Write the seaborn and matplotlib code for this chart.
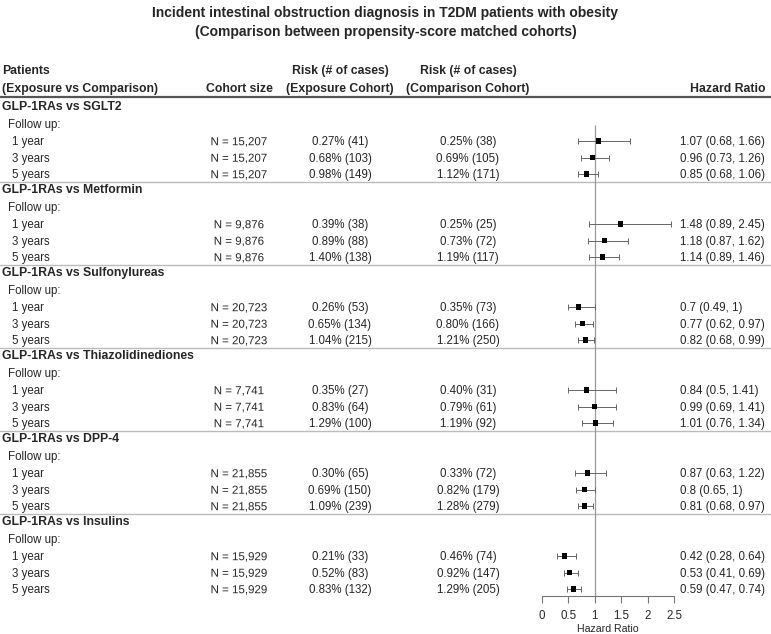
import numpy as np
import pandas as pd
import matplotlib
matplotlib.use("Agg")
import matplotlib.pyplot as plt
import matplotlib.patheffects as pe
import seaborn as sns

# ── Data ──────────────────────────────────────────────────────
groups = ["GLP-1RAs vs SGLT2", "GLP-1RAs vs Metformin", "GLP-1RAs vs Sulfonylureas",
          "GLP-1RAs vs Thiazolidinediones", "GLP-1RAs vs DPP-4", "GLP-1RAs vs Insulins"]
follow_up = ["1 year", "3 years", "5 years"]
cohort_n = [15207, 9876, 20723, 7741, 21855, 15929]

exp_pct = [[0.27, 0.68, 0.98], [0.39, 0.89, 1.40], [0.26, 0.65, 1.04],
           [0.35, 0.83, 1.29], [0.30, 0.69, 1.09], [0.21, 0.52, 0.83]]
exp_cases = [[41, 103, 149], [38, 88, 138], [53, 134, 215],
             [27, 64, 100], [65, 150, 239], [33, 83, 132]]
cmp_pct = [[0.25, 0.69, 1.12], [0.25, 0.73, 1.19], [0.35, 0.80, 1.21],
           [0.40, 0.79, 1.19], [0.33, 0.82, 1.28], [0.46, 0.92, 1.29]]
cmp_cases = [[38, 105, 171], [25, 72, 117], [73, 166, 250],
             [31, 61, 92], [72, 179, 279], [74, 147, 205]]
hr = [[1.07, 0.96, 0.85], [1.48, 1.18, 1.14], [0.7, 0.77, 0.82],
      [0.84, 0.99, 1.01], [0.87, 0.8, 0.81], [0.42, 0.53, 0.59]]
hr_lo = [[0.68, 0.73, 0.68], [0.89, 0.87, 0.89], [0.49, 0.62, 0.68],
         [0.5, 0.69, 0.76], [0.63, 0.65, 0.68], [0.28, 0.41, 0.47]]
hr_hi = [[1.66, 1.26, 1.06], [2.45, 1.62, 1.46], [1, 0.97, 0.99],
         [1.41, 1.41, 1.34], [1.22, 1, 0.97], [0.64, 0.69, 0.74]]
hr_ticks = [0, 0.5, 1, 1.5, 2, 2.5]

# ── Style ─────────────────────────────────────────────────────
sns.set_theme(style="white")
plt.rcParams["font.family"] = ["Liberation Sans", "DejaVu Sans"]
FS = 8.3
FS_B = 8.8
W, H = 771, 634
BL = 4.2  # centre -> baseline offset for body text

# layout (pixel-like units, y downwards)
GROUP_TOP, GROUP_STEP = 106, 83
ROW_OFF = [0, 18, 35, 51.5, 68]
X_COH, X_EXP, X_CMP, X_HR = 239, 340, 468, 680

rows = []
for g in range(len(groups)):
    base = GROUP_TOP + GROUP_STEP * g
    for i in range(3):
        rows.append({"group": groups[g], "y": base + ROW_OFF[2 + i],
                     "hr": hr[g][i], "lo": hr_lo[g][i], "hi": hr_hi[g][i]})
df = pd.DataFrame(rows)

fig = plt.figure(figsize=(W / 100, H / 100), dpi=100)
tab = fig.add_axes([0, 0, 1, 1])
tab.set_xlim(0, W)
tab.set_ylim(H, 0)
tab.axis("off")

# title
ttl = dict(ha="center", va="baseline", fontsize=10, fontweight="bold")
tab.text(W / 2, 12 + 5, "Incident intestinal obstruction diagnosis in T2DM patients with obesity", **ttl)
tab.text(W / 2, 31 + 5, "(Comparison between propensity-score matched cohorts)", **ttl)

# header
hdr = dict(va="baseline", fontsize=FS_B, fontweight="bold")
tab.text(2, 70 + BL, "Patients", ha="left", **hdr)
tab.text(2, 88 + BL, "(Exposure vs Comparison)", ha="left", **hdr)
tab.text(X_COH, 88 + BL, "Cohort size", ha="center", **hdr)
tab.text(X_EXP, 70 + BL, "Risk (# of cases)", ha="center", **hdr)
tab.text(X_EXP, 88 + BL, "(Exposure Cohort)", ha="center", **hdr)
tab.text(X_CMP, 70 + BL, "Risk (# of cases)", ha="center", **hdr)
tab.text(X_CMP, 88 + BL, "(Comparison Cohort)", ha="center", **hdr)
tab.text(765, 88 + BL, "Hazard Ratio", ha="right", **hdr)
tab.plot([0, W], [97, 97], color="#555555", lw=1.6, solid_capstyle="butt")

body = dict(va="baseline", fontsize=FS)
for g, name in enumerate(groups):
    base = GROUP_TOP + GROUP_STEP * g
    tab.text(2, base + ROW_OFF[0] + BL, name, ha="left", va="baseline",
             fontsize=FS_B, fontweight="bold")
    tab.text(8, base + ROW_OFF[1] + BL, "Follow up:", ha="left", **body)
    for i, lab in enumerate(follow_up):
        y = base + ROW_OFF[2 + i] + BL
        tab.text(12, y, lab, ha="left", **body)
        # drawn as a path: Agg puts comma-only descender strings a bit low
        tab.text(X_COH, y, f"N = {cohort_n[g]:,}", ha="center",
                 path_effects=[pe.Normal()], **body)
        tab.text(X_EXP, y, f"{exp_pct[g][i]:.2f}% ({exp_cases[g][i]})", ha="center", **body)
        tab.text(X_CMP, y, f"{cmp_pct[g][i]:.2f}% ({cmp_cases[g][i]})", ha="center", **body)
        tab.text(X_HR, y, f"{hr[g][i]:g} ({hr_lo[g][i]:g}, {hr_hi[g][i]:g})", ha="left", **body)
    if g < len(groups) - 1:
        tab.plot([0, W], [base + 76, base + 76], color="#bbbbbb", lw=1.0)

# ── Forest plot ───────────────────────────────────────────────
AX_Y, TOP_Y = 596, 90
fax = fig.add_axes([542 / W, (H - AX_Y) / H, 132 / W, (AX_Y - TOP_Y) / H])
fax.patch.set_alpha(0)
fax.set_xlim(0, 2.5)
fax.set_ylim(AX_Y, TOP_Y)
fax.vlines(1, 125, AX_Y, color="#999999", lw=0.9)
fax.errorbar(df["hr"], df["y"], xerr=[df["hr"] - df["lo"], df["hi"] - df["hr"]],
             fmt="none", ecolor="#666666", elinewidth=0.7, capsize=2.2, capthick=0.7)
sns.scatterplot(data=df, x="hr", y="y", marker="s", color="black", s=13,
                edgecolor="none", ax=fax, zorder=3)

for side in ["left", "top", "right"]:
    fax.spines[side].set_visible(False)
fax.spines["bottom"].set_bounds(0, 2.5)
fax.spines["bottom"].set_color("#777777")
fax.spines["bottom"].set_linewidth(0.8)
fax.set_yticks([])
fax.set_xticks(hr_ticks)
fax.set_xticklabels([f"{t:g}" for t in hr_ticks])
fax.tick_params(axis="x", direction="out", length=5, width=0.8, color="#777777",
                labelsize=FS, pad=5, bottom=True)
fax.set_xlabel("Hazard Ratio", fontsize=7.6, labelpad=1.5)
fax.set_ylabel("")

fig.savefig("out.png", dpi=100)
